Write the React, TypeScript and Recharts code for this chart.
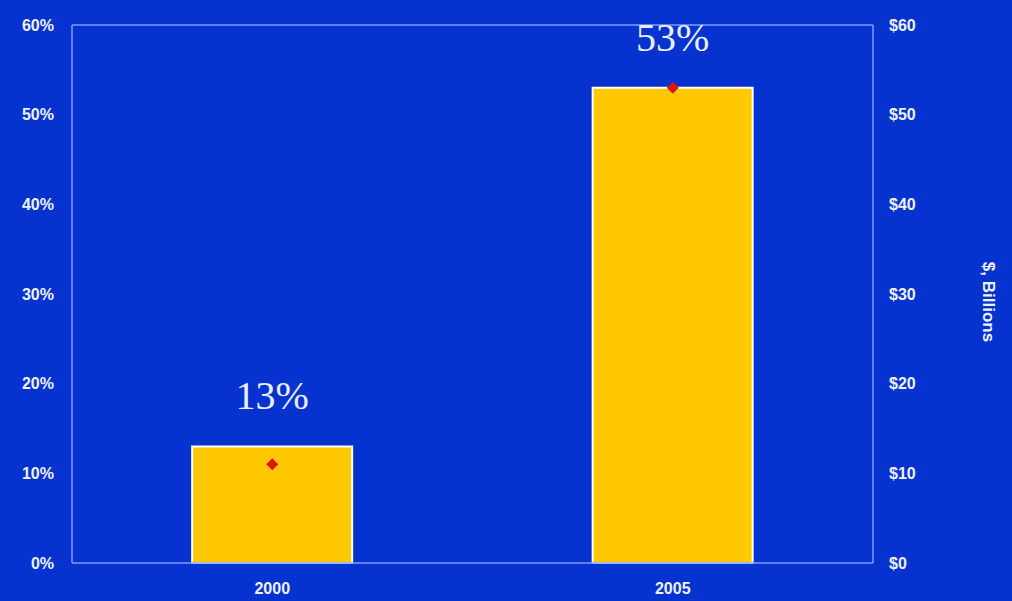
import {
  ComposedChart,
  Bar,
  Line,
  XAxis,
  YAxis,
  ReferenceLine,
  LabelList,
} from "recharts";

const YEARS = ["2000", "2005"];
const SHARE_PCT = [13, 53];
const VALUE_BILLIONS = [11, 53];
const PCT_TICKS = [0, 10, 20, 30, 40, 50, 60];
const DOLLAR_TICKS = [0, 10, 20, 30, 40, 50, 60];

const data = YEARS.map((year, i) => ({
  year,
  share: SHARE_PCT[i],
  value: VALUE_BILLIONS[i],
}));

const BG = "#0632cf";
const FRAME = "#7f9cff";
const TICK = { fill: "#eef2ff", fontSize: 16, fontWeight: 700, fontFamily: "Liberation Sans, Arial, sans-serif" };

function Diamond(props: any) {
  const { cx, cy } = props;
  if (cx == null || cy == null) return null;
  const r = 6;
  return (
    <path
      d={`M${cx},${cy - r} L${cx + r},${cy} L${cx},${cy + r} L${cx - r},${cy} Z`}
      fill="#e01414"
    />
  );
}

export default function App() {
  return (
    <div style={{ width: 1012, height: 601, background: BG }}>
      <style>{`body{margin:0;}`}</style>
      <ComposedChart
        width={1012}
        height={601}
        data={data}
        margin={{ top: 25, right: 0, left: 0, bottom: 0 }}
        barCategoryGap="30%"
      >
        <XAxis
          dataKey="year"
          axisLine={{ stroke: FRAME, strokeWidth: 1.5 }}
          tickLine={false}
          tickSize={0}
          tickMargin={20}
          tick={TICK}
          height={38}
        />
        <YAxis
          yAxisId="left"
          domain={[0, 60]}
          ticks={PCT_TICKS}
          tickFormatter={(v) => `${v}%`}
          axisLine={{ stroke: FRAME, strokeWidth: 1.5 }}
          tickLine={false}
          tickSize={0}
          tickMargin={18}
          tick={TICK}
          width={72}
        />
        <YAxis
          yAxisId="right"
          orientation="right"
          domain={[0, 60]}
          ticks={DOLLAR_TICKS}
          tickFormatter={(v) => `$${v}`}
          axisLine={{ stroke: FRAME, strokeWidth: 1.5 }}
          tickLine={false}
          tickSize={0}
          tickMargin={16}
          tick={{ ...TICK, textAnchor: "start" }}
          width={139}
          label={{
            value: "$, Billions",
            angle: 90,
            position: "center",
            dx: 47,
            dy: 8,
            fill: "#eef2ff",
            fontSize: 17,
            fontWeight: 700,
            fontFamily: "Liberation Sans, Arial, sans-serif",
          }}
        />
        <ReferenceLine yAxisId="left" y={60} stroke={FRAME} strokeWidth={1.5} />
        <Bar
          yAxisId="left"
          dataKey="share"
          fill="#ffc800"
          stroke="#ffffff"
          strokeWidth={2}
          isAnimationActive={false}
        >
          <LabelList
            dataKey="share"
            position="top"
            offset={37}
            formatter={(v: any) => `${v}%`}
            fill="#e6eeff"
            fontSize={40}
            fontFamily="Liberation Serif, Times New Roman, serif"
          />
        </Bar>
        <Line
          yAxisId="right"
          dataKey="value"
          stroke="none"
          dot={<Diamond />}
          activeDot={false}
          isAnimationActive={false}
        />
      </ComposedChart>
    </div>
  );
}
